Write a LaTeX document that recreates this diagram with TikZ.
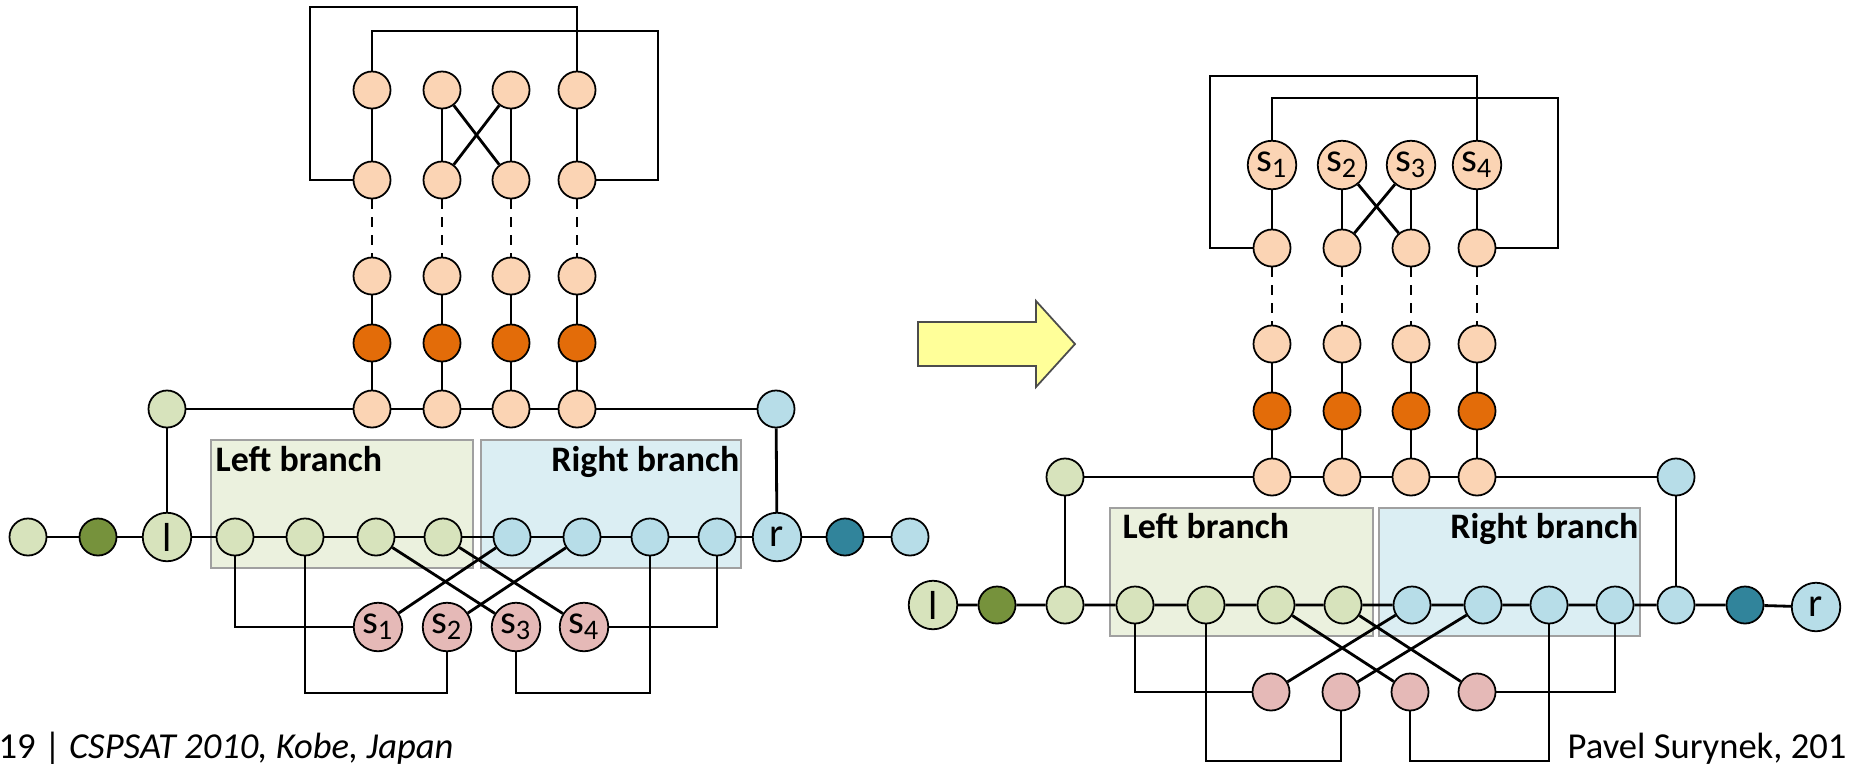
\documentclass[tikz,border=0pt]{standalone}
\usepackage{fontspec}
\setmainfont{Carlito}
\definecolor{leaf}{RGB}{215,227,188}
\definecolor{moss}{RGB}{118,146,60}
\definecolor{sky}{RGB}{183,221,232}
\definecolor{deepteal}{RGB}{49,132,155}
\definecolor{peach}{RGB}{251,212,180}
\definecolor{ember}{RGB}{227,108,9}
\definecolor{rose}{RGB}{229,185,183}
\definecolor{leafbox}{RGB}{235,241,222}
\definecolor{skybox}{RGB}{219,238,243}
\definecolor{boxgray}{RGB}{160,160,160}
\definecolor{lemon}{RGB}{255,255,153}
\tikzset{
  knot/.style={circle,draw=black,line width=0.5pt,inner sep=0pt,minimum size=3.7mm,font=\fontsize{11.5}{12}\selectfont},
  big/.style={minimum size=4.85mm},
  leafknot/.style={knot,fill=leaf},
  mossknot/.style={knot,fill=moss},
  skyknot/.style={knot,fill=sky},
  tealknot/.style={knot,fill=deepteal},
  peachknot/.style={knot,fill=peach},
  emberknot/.style={knot,fill=ember},
  roseknot/.style={knot,fill=rose},
  link/.style={draw=black,line width=0.8pt},
  gap/.style={link,dash pattern=on 2.8pt off 2.3pt},
  branchbox/.style={draw=boxgray,line width=0.6pt},
  caption/.style={font=\bfseries\fontsize{10.2}{12}\selectfont,inner sep=0pt},
  footer/.style={font=\fontsize{10.4}{12}\selectfont,inner sep=0pt}
}

\begin{document}
\begin{tikzpicture}[x=0.01cm,y=-0.01cm]
  \useasboundingbox[fill=white] (0,0) rectangle (1849,763);

  % ===== before =====
  \fill[leafbox,branchbox] (211,440) rectangle (473,568);
  \fill[skybox,branchbox] (481,440) rectangle (741,568);
  \node[caption,anchor=base west] (aLeftTxt) at (215,471) {Left branch};
  \node[caption,anchor=base east] (aRightTxt) at (740,471) {Right branch};

  % stacked columns
  \foreach \i/\x in {1/372,2/442,3/511,4/577} {
    \node[peachknot] (aT\i) at (\x,90) {};
    \node[peachknot] (aM\i) at (\x,180) {};
    \node[peachknot] (aL\i) at (\x,276) {};
    \node[emberknot] (aH\i) at (\x,343) {};
    \node[peachknot] (aB\i) at (\x,409) {};
    \draw[link] (aT\i) -- (aM\i);
    \draw[gap] (aM\i) -- (aL\i);
    \draw[link] (aL\i) -- (aH\i) -- (aB\i);
  }
  \draw[link] (aT2) -- (aM3);
  \draw[link] (aT3) -- (aM2);
  \coordinate (aOuter) at (310,7);
  \coordinate (aInner) at (658,31);
  \draw[link] (aM1) -| (aOuter) -| (aT4);
  \draw[link] (aT1) |- (aInner) |- (aM4);

  \node[leafknot] (aG) at (167,409) {};
  \node[skyknot] (aU) at (776,409) {};
  \draw[link] (aG) -- (aB1) -- (aB2) -- (aB3) -- (aB4) -- (aU);

  % main line
  \node[leafknot] (aE1) at (28,537) {};
  \node[mossknot] (aE2) at (98,537) {};
  \node[leafknot,big] (al) at (167,537) {l};
  \foreach \i/\x in {1/235,2/305,3/376,4/443}
    \node[leafknot] (aP\i) at (\x,537) {};
  \foreach \i/\x in {1/512,2/582,3/650,4/717}
    \node[skyknot] (aQ\i) at (\x,537) {};
  \node[skyknot,big] (ar) at (777,537) {r};
  \node[tealknot] (aF1) at (845,537) {};
  \node[skyknot] (aF2) at (910,537) {};
  \draw[link] (aE1) -- (aE2) -- (al) -- (aP1) -- (aP2) -- (aP3) -- (aP4)
    -- (aQ1) -- (aQ2) -- (aQ3) -- (aQ4) -- (ar) -- (aF1) -- (aF2);
  \draw[link] (aG) -- (al);
  \draw[link] (aU) -- (ar);

  % swap nodes
  \foreach \i/\x in {1/378,2/447,3/516,4/584}
    \node[roseknot,big] (aS\i) at (\x,627) {s\textsubscript{\i}};
  \coordinate (aFloor) at (0,693);
  \draw[link] (aP1) |- (aS1);
  \draw[link] (aP2) |- (aS2 |- aFloor) -- (aS2);
  \draw[link] (aP3) -- (aS3);
  \draw[link] (aP4) -- (aS4);
  \draw[link] (aQ1) -- (aS1);
  \draw[link] (aQ2) -- (aS2);
  \draw[link] (aQ3) |- (aS3 |- aFloor) -- (aS3);
  \draw[link] (aQ4) |- (aS4);

  % transformation arrow
  \filldraw[fill=lemon,draw=black!70,line width=0.5pt]
    (918,322) -- (1036,322) -- (1036,301) -- (1075,344)
    -- (1036,387) -- (1036,366) -- (918,366) -- cycle;

  % ===== after =====
  \fill[leafbox,branchbox] (1110,508) rectangle (1373,636);
  \fill[skybox,branchbox] (1379,508) rectangle (1640,636);
  \node[caption,anchor=base west] (bLeftTxt) at (1122,538) {Left branch};
  \node[caption,anchor=base east] (bRightTxt) at (1639,538) {Right branch};

  \foreach \i/\x in {1/1272,2/1342,3/1411,4/1477} {
    \node[peachknot,big] (bT\i) at (\x,165) {s\textsubscript{\i}};
    \node[peachknot] (bM\i) at (\x,248) {};
    \node[peachknot] (bL\i) at (\x,344) {};
    \node[emberknot] (bH\i) at (\x,411) {};
    \node[peachknot] (bB\i) at (\x,477) {};
    \draw[link] (bT\i) -- (bM\i);
    \draw[gap] (bM\i) -- (bL\i);
    \draw[link] (bL\i) -- (bH\i) -- (bB\i);
  }
  \draw[link] (bT2) -- (bM3);
  \draw[link] (bT3) -- (bM2);
  \coordinate (bOuter) at (1210,76);
  \coordinate (bInner) at (1558,98);
  \draw[link] (bM1) -| (bOuter) -| (bT4);
  \draw[link] (bT1) |- (bInner) |- (bM4);

  \node[leafknot] (bG) at (1065,477) {};
  \node[skyknot] (bU) at (1676,477) {};
  \draw[link] (bG) -- (bB1) -- (bB2) -- (bB3) -- (bB4) -- (bU);

  \node[leafknot,big] (bl) at (933,605) {l};
  \node[mossknot] (bE2) at (997,605) {};
  \node[leafknot] (bE3) at (1065,605) {};
  \foreach \i/\x in {1/1135,2/1206,3/1276,4/1343}
    \node[leafknot] (bP\i) at (\x,605) {};
  \foreach \i/\x in {1/1412,2/1483,3/1549,4/1615}
    \node[skyknot] (bQ\i) at (\x,605) {};
  \node[skyknot] (bF1) at (1676,605) {};
  \node[tealknot] (bF2) at (1745,605) {};
  \node[skyknot,big] (br) at (1816,607) {r};
  \draw[link] (bl) -- (bE2) -- (bE3) -- (bP1) -- (bP2) -- (bP3) -- (bP4)
    -- (bQ1) -- (bQ2) -- (bQ3) -- (bQ4) -- (bF1) -- (bF2) -- (br);
  \draw[link] (bG) -- (bE3);
  \draw[link] (bU) -- (bF1);

  \foreach \i/\x in {1/1271,2/1341,3/1410,4/1477}
    \node[roseknot] (bS\i) at (\x,692) {};
  \coordinate (bFloor) at (0,761);
  \draw[link] (bP1) |- (bS1);
  \draw[link] (bP2) |- (bS2 |- bFloor) -- (bS2);
  \draw[link] (bP3) -- (bS3);
  \draw[link] (bP4) -- (bS4);
  \draw[link] (bQ1) -- (bS1);
  \draw[link] (bQ2) -- (bS2);
  \draw[link] (bQ3) |- (bS3 |- bFloor) -- (bS3);
  \draw[link] (bQ4) |- (bS4);

  % slide footer
  \node[footer,anchor=base west] (slideNo) at (-2,758) {19 | \textit{CSPSAT 2010, Kobe, Japan}};
  \node[footer,anchor=base east] (owner) at (1847,758) {Pavel Surynek, 201};
\end{tikzpicture}
\end{document}
